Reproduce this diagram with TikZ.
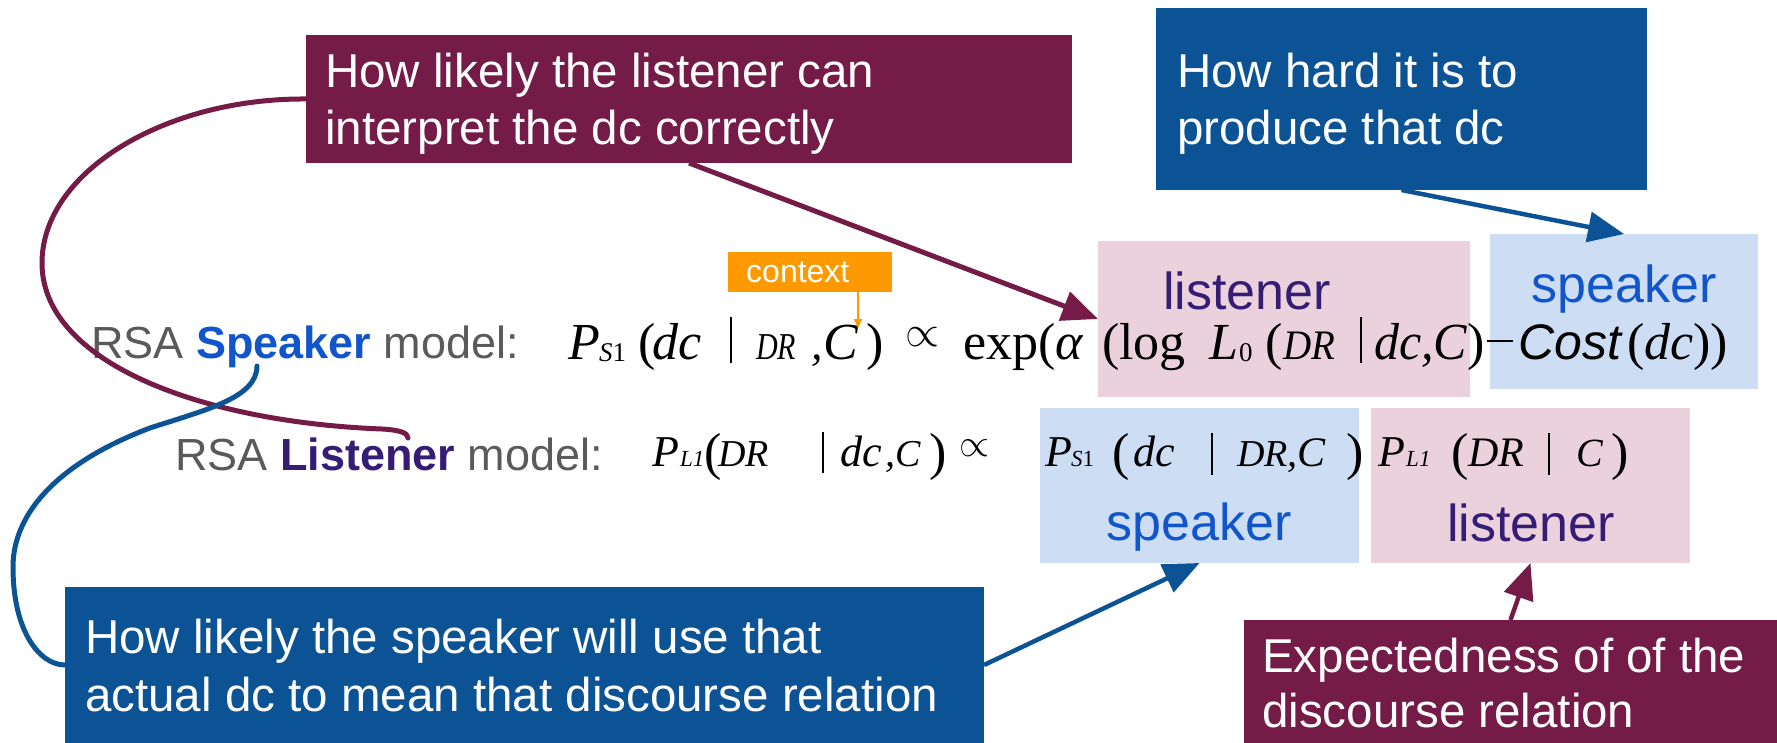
\documentclass[tikz,border=0pt]{standalone}
\usepackage{fontspec}
\usepackage{graphicx}
\setmainfont{Liberation Serif}
\setsansfont{Liberation Sans}
\usetikzlibrary{arrows.meta}

\definecolor{plum}{HTML}{741B47}
\definecolor{navy}{HTML}{0B5394}
\definecolor{pinkbg}{HTML}{EAD1DC}
\definecolor{bluebg}{HTML}{CCDDF4}
\definecolor{ctxorange}{HTML}{FF9900}
\definecolor{spkblue}{HTML}{1155CC}
\definecolor{lstpurple}{HTML}{351C75}
\definecolor{rowgray}{HTML}{5A5A5A}

\tikzset{
  panel/.style={anchor=north west, inner sep=0pt, outer sep=0pt, draw=none},
  callout/.style={anchor=base west, inner sep=0pt, text=white,
    font=\sffamily\fontsize{47.5}{57}\selectfont},
  rowtext/.style={anchor=base west, inner sep=0pt, text=rowgray,
    font=\sffamily\fontsize{45}{54}\selectfont},
  tag/.style={anchor=base, inner sep=0pt, font=\sffamily\fontsize{52}{60}\selectfont},
  eqpiece/.style={anchor=base west, inner sep=0pt},
  relsign/.style={inner sep=0pt},
  pointer/.style={line width=5pt, -{Triangle[length=36pt,width=30pt]}},
  loop/.style={line width=5pt, line cap=round},
  bar/.style={line width=2pt},
}

% an equation fragment: name, x, baseline, font size, content
\newcommand\eqat[5]{\node[eqpiece, font=\fontsize{#4}{#4}\selectfont] (#1) at (#2,#3) {#5};}

\begin{document}
\begin{tikzpicture}[x=1pt, y=-1pt]
\useasboundingbox (0,0) rectangle (1777,743);

% ---------- shaded term panels ----------
\node[panel, fill=pinkbg, minimum width=372pt, minimum height=156pt] (lst1) at (1098,241) {};
\node[panel, fill=bluebg, minimum width=268pt, minimum height=155pt] (spk1) at (1490,234) {};
\node[panel, fill=bluebg, minimum width=319pt, minimum height=155pt] (spk2) at (1040,408) {};
\node[panel, fill=pinkbg, minimum width=319pt, minimum height=155pt] (lst2) at (1371,408) {};

\node[tag, text=lstpurple] (lst1t) at (1247,309) {listener};
\node[tag, text=spkblue]   (spk1t) at (1624,302) {speaker};
\node[tag, text=spkblue]   (spk2t) at (1199,540) {speaker};
\node[tag, text=lstpurple] (lst2t) at (1531,541) {listener};

% ---------- callout boxes ----------
\node[panel, fill=plum, minimum width=766pt, minimum height=128pt] (why) at (306,35) {};
\node[callout] (why1) at (325,88)  {How likely the listener can};
\node[callout] (why2) at (325,145) {interpret the dc correctly};

\node[panel, fill=navy, minimum width=491pt, minimum height=182pt] (hard) at (1156,8) {};
\node[callout] (hard1) at (1177,88)  {How hard it is to};
\node[callout] (hard2) at (1177,145) {produce that dc};

\node[panel, fill=navy, minimum width=919pt, minimum height=156pt] (use) at (65,587) {};
\node[callout] (use1) at (85,653) {How likely the speaker will use that};
\node[callout] (use2) at (85,711) {actual dc to mean that discourse relation};

\node[panel, fill=plum, minimum width=533pt, minimum height=123pt] (expt) at (1244,620) {};
\node[callout] (expt1) at (1262,672) {Expectedness of of the};
\node[callout] (expt2) at (1262,727) {discourse relation};

\node[panel, fill=ctxorange, minimum width=164pt, minimum height=40pt] (ctx) at (728,252) {};
\node[anchor=base west, inner sep=0pt, text=white, font=\sffamily\fontsize{32}{36}\selectfont] (ctxt) at (746,283) {context};

% ---------- row labels ----------
\node[rowtext] (srow) at (91,358) {RSA \textcolor{spkblue}{\bfseries Speaker} model:};
\node[rowtext] (lrow) at (175,470) {RSA \textcolor{lstpurple}{\bfseries Listener} model:};

% ---------- speaker equation ----------
\eqat{s1}{568}{359}{52}{\itshape P}
\eqat{s2}{599}{361}{27}{\itshape S\upshape 1}
\eqat{s3}{638}{359}{52}{(}
\eqat{s4}{652}{359}{52}{\itshape dc}
\draw[bar] (731,317) -- (731,363);
\eqat{s5}{756}{359}{38}{\resizebox{40pt}{\height}{\itshape DR}}
\eqat{s6}{811}{359}{46}{\itshape ,}
\eqat{s7}{823}{359}{52}{\itshape C}
\eqat{s8}{866}{359}{52}{)}
\node[relsign] (s9) at (922,337) {\resizebox{34pt}{!}{$\propto$}};
\eqat{s10}{963}{359}{52}{exp(\itshape α}
\eqat{s11}{1102}{359}{52}{(log}
\eqat{s12}{1209}{359}{52}{\itshape L}
\eqat{s13}{1239}{361}{27}{0}
\eqat{s14}{1265}{359}{52}{(}
\eqat{s15}{1283}{359}{42}{\resizebox{52pt}{\height}{\itshape DR}}
\draw[bar] (1361,317) -- (1361,363);
\eqat{s16}{1374}{359}{52}{\resizebox{93pt}{\height}{\itshape dc,C}}
\eqat{s17}{1467}{359}{52}{)}
\draw[line width=2.5pt] (1487,341) -- (1513,341);
\eqat{s18}{1518}{359}{50}{\sffamily\itshape Cost}
\eqat{s19}{1627}{359}{52}{(\itshape dc\upshape))}

% ---------- listener equation ----------
\eqat{l1}{652}{466}{44}{\itshape P}
\eqat{l2}{680}{466}{23}{\itshape L1}
\eqat{l3}{704}{469}{52}{(}
\eqat{l4}{718}{466}{38}{\itshape DR}
\draw[bar] (823,432) -- (823,473);
\eqat{l5}{840}{466}{44}{\itshape dc}
\eqat{l6}{885}{466}{40}{\itshape ,}
\eqat{l7}{895}{466}{38}{\itshape C}
\eqat{l8}{929}{469}{52}{)}
\node[relsign] (l9) at (974,448) {\resizebox{30pt}{!}{$\propto$}};
\eqat{l10}{1045}{466}{44}{\itshape P}
\eqat{l11}{1071}{466}{23}{\itshape S\upshape 1}
\eqat{l12}{1112}{469}{52}{(}
\eqat{l13}{1133}{466}{44}{\itshape dc}
\draw[bar] (1212,433) -- (1212,475);
\eqat{l14}{1237}{466}{38}{\itshape DR}
\eqat{l15}{1287}{466}{40}{\itshape ,}
\eqat{l16}{1297}{466}{42}{\itshape C}
\eqat{l17}{1346}{469}{52}{)}
\eqat{l18}{1378}{466}{44}{\itshape P}
\eqat{l19}{1406}{466}{23}{\itshape L1}
\eqat{l20}{1451}{469}{52}{(}
\eqat{l21}{1468}{466}{42}{\itshape DR}
\draw[bar] (1549,433) -- (1549,475);
\eqat{l22}{1576}{466}{40}{\itshape C}
\eqat{l23}{1611}{469}{52}{)}

% ---------- connectors ----------
\draw[pointer, color=plum] (why.south) -- (lst1.west);
\draw[pointer, color=navy, line width=4.5pt] (hard.south) -- (spk1.north);
\draw[pointer, color=navy, line width=4.5pt] (use.east) -- (spk2.south);
\draw[pointer, color=plum, line width=4.5pt] (expt.north) -- (lst2.south);
\coordinate (ctxtip) at (858,328);
\draw[color=ctxorange, line width=2pt, -{Triangle[length=9pt,width=8pt]}] (ctxtip |- ctx.south) -- (ctxtip);

\coordinate (hook) at (408,438);
\coordinate (spkword) at (257,366);
\draw[loop, color=plum] (why.west) .. controls (165,98) and (42,172) .. (42,263)
  .. controls (42,362) and (200,422) .. (382,429)
  .. controls (400,430) and (408,433) .. (hook);
\draw[loop, color=navy] (spkword) .. controls (257,398) and (205,410) .. (150,428)
  .. controls (60,462) and (13,512) .. (13,567)
  .. controls (13,632) and (40,665) .. (use.west);
\end{tikzpicture}
\end{document}
